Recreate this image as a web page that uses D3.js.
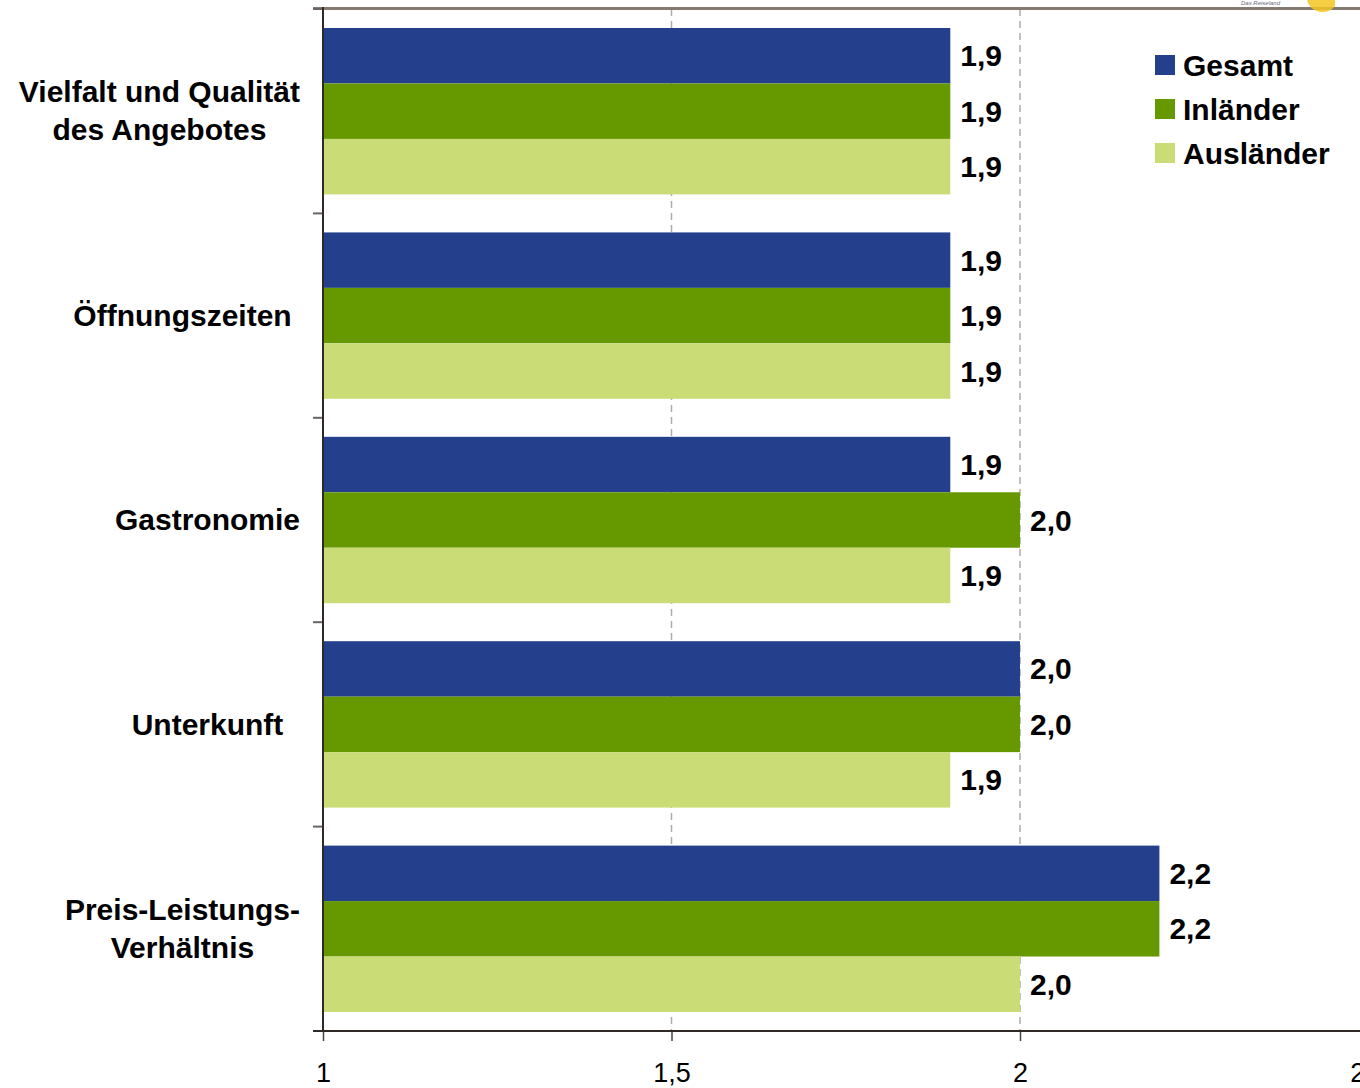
<!DOCTYPE html>
<html>
<head>
<meta charset="utf-8">
<script src="https://cdn.jsdelivr.net/npm/d3@7"></script>
<style>
  html, body { margin: 0; padding: 0; background: #fff; }
  svg { display: block; }
  text { font-family: "Liberation Sans", Arial, sans-serif; white-space: pre; }
</style>
</head>
<body>
<svg id="chart" width="1360" height="1088"></svg>
<script>
// ---- data ----
const categories = [
  "Vielfalt und Qualität\ndes Angebotes",
  "Öffnungszeiten ",
  "Gastronomie",
  "Unterkunft  ",
  "Preis-Leistungs-\nVerhältnis"
];
const seriesNames = ["Gesamt", "Inländer", "Ausländer"];
const gesamt    = [1.9, 1.9, 1.9, 2.0, 2.2];
const inlaender = [1.9, 1.9, 2.0, 2.0, 2.2];
const auslaender= [1.9, 1.9, 1.9, 1.9, 2.0];
const seriesValues = [gesamt, inlaender, auslaender];
const seriesColors = ["#24408d", "#669900", "#cadc76"];
const tickValues = [1, 1.5, 2, 2.5];
const tickLabels = ["1", "1,5", "2", "2,5"];

// ---- layout ----
const svg = d3.select("#chart");
const pLeft = 323, pRight = 1368.5, pTop = 9, pBottom = 1031;
const boldSize = 30;

const x = d3.scaleLinear().domain([1, 2.5]).range([pLeft, pRight]);
const y0 = d3.scaleBand().domain(categories).range([pTop, pBottom]).padding(0);
const gap = y0.bandwidth() * 0.093;
const y1 = d3.scaleBand().domain(seriesNames).range([gap, y0.bandwidth() - gap]).padding(0);

const fmt = v => d3.format(".1f")(v).replace(".", ",");

// gridlines (dashed)
svg.append("g").selectAll("line")
  .data([1.5, 2])
  .join("line")
  .attr("x1", d => x(d)).attr("x2", d => x(d))
  .attr("y1", pTop).attr("y2", pBottom)
  .attr("stroke", "#b3aaa3").attr("stroke-width", 1.5)
  .attr("stroke-dasharray", "7,5");

// bars
const rows = [];
categories.forEach((c, i) => {
  seriesNames.forEach((s, j) => {
    rows.push({ cat: c, series: s, value: seriesValues[j][i], color: seriesColors[j] });
  });
});

const g = svg.append("g");
g.selectAll("rect")
  .data(rows)
  .join("rect")
  .attr("x", x(1))
  .attr("y", d => y0(d.cat) + y1(d.series))
  .attr("width", d => x(d.value) - x(1))
  .attr("height", y1.bandwidth())
  .attr("fill", d => d.color);

// value labels
g.selectAll("text.val")
  .data(rows)
  .join("text")
  .attr("class", "val")
  .attr("x", d => x(d.value) + 10)
  .attr("y", d => y0(d.cat) + y1(d.series) + y1.bandwidth() / 2)
  .attr("dy", "0.35em")
  .attr("font-size", boldSize)
  .attr("font-weight", "bold")
  .attr("fill", "#000")
  .text(d => fmt(d.value));

// top border line (header)
svg.append("line")
  .attr("x1", pLeft - 10).attr("x2", 1360)
  .attr("y1", pTop - 0.5).attr("y2", pTop - 0.5)
  .attr("stroke", "#857a72").attr("stroke-width", 3);

// small logo remnants at top right
svg.append("text")
  .attr("x", 1241).attr("y", 5)
  .attr("font-size", 6).attr("font-style", "italic")
  .attr("fill", "#6a6a7a")
  .text("Das Reiseland");
svg.append("path")
  .attr("d", "M1307,0 A16,16 0 0 0 1335,6 L1335,0 Z")
  .attr("fill", "#f3c623").attr("opacity", 0.85);

// left axis line + ticks at band boundaries
const bounds = categories.map(c => y0(c)).concat([pBottom]);
svg.append("g").selectAll("line")
  .data(bounds)
  .join("line")
  .attr("x1", pLeft - 10).attr("x2", pLeft)
  .attr("y1", d => d).attr("y2", d => d)
  .attr("stroke", "#6b6460").attr("stroke-width", 2);
svg.append("line")
  .attr("x1", pLeft).attr("x2", pLeft)
  .attr("y1", pTop - 2).attr("y2", pBottom + 1)
  .attr("stroke", "#2f2a27").attr("stroke-width", 2);

// bottom axis
const xAxis = d3.axisBottom(x)
  .tickValues(tickValues)
  .tickSize(10)
  .tickSizeOuter(0)
  .tickFormat((d, i) => tickLabels[i]);
const ax = svg.append("g").attr("transform", `translate(0,${pBottom})`).call(xAxis);
ax.select(".domain").remove();
ax.selectAll(".tick line").attr("stroke", "#4a4541").attr("stroke-width", 1.5);
ax.selectAll(".tick text")
  .attr("y", 32)
  .attr("font-size", 27)
  .attr("font-family", "Liberation Sans, Arial, sans-serif")
  .attr("fill", "#000");
svg.append("line")
  .attr("x1", pLeft - 10).attr("x2", 1360)
  .attr("y1", pBottom).attr("y2", pBottom)
  .attr("stroke", "#2f2a27").attr("stroke-width", 2);

// category labels
const catRight = 300;
const lineH = 38;
categories.forEach(c => {
  const lines = c.split("\n");
  const cy = y0(c) + y0.bandwidth() / 2;
  const t = svg.append("text")
    .attr("font-size", boldSize)
    .attr("font-weight", "bold")
    .attr("fill", "#000")
    .attr("text-anchor", "middle");
  const spans = lines.map((ln, k) =>
    t.append("tspan")
      .attr("y", cy + (k - (lines.length - 1) / 2) * lineH)
      .attr("dy", "0.34em")
      .text(ln));
  const maxW = d3.max(spans, s => s.node().getComputedTextLength());
  spans.forEach(s => s.attr("x", catRight - maxW / 2));
});

// legend
const legend = svg.append("g");
seriesNames.forEach((s, i) => {
  const cy = 65 + i * 44;
  legend.append("rect")
    .attr("x", 1155).attr("y", cy - 10)
    .attr("width", 20).attr("height", 20)
    .attr("fill", seriesColors[i]);
  legend.append("text")
    .attr("x", 1183).attr("y", cy)
    .attr("dy", "0.35em")
    .attr("font-size", boldSize)
    .attr("font-weight", "bold")
    .attr("fill", "#000")
    .text(s);
});
</script>
</body>
</html>
